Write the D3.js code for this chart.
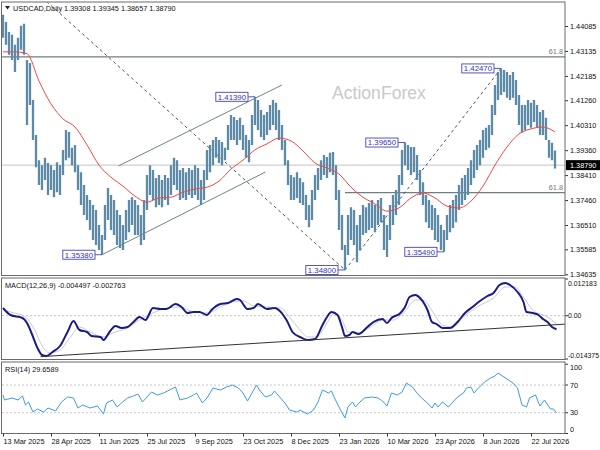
<!DOCTYPE html>
<html>
<head>
<meta charset="utf-8">
<script src="https://cdn.jsdelivr.net/npm/d3@7"></script>
<style>
  body { margin: 0; background: #fff; }
  svg { display: block; }
  text { font-family: "Liberation Sans", Arial, sans-serif; }
</style>
</head>
<body>
<svg id="chart" width="600" height="450"></svg>
<script>
// ---- data ----
var dateLabels = ["13 Mar 2025", "28 Apr 2025", "11 Jun 2025", "25 Jul 2025", "9 Sep 2025", "23 Oct 2025",
  "8 Dec 2025", "23 Jan 2026", "10 Mar 2026", "23 Apr 2026", "8 Jun 2026", "22 Jul 2026"];
var dateIdx = [0, 32, 64, 96, 128, 160, 192, 224, 256, 288, 320, 352];
var priceTicks = [1.44085, 1.43135, 1.42185, 1.41260, 1.40310, 1.39360, 1.38410, 1.37460, 1.36510, 1.35585, 1.34635];

// one entry per two daily bars
var barHigh = [1.4451, 1.4424, 1.4386, 1.4375, 1.4337, 1.4364, 1.4409, 1.4417, 1.4279, 1.4268,
  1.4127, 1.3994, 1.3898, 1.3879, 1.3907, 1.3887, 1.3879, 1.3860, 1.3890, 1.3879,
  1.3937, 1.4013, 1.4005, 1.3945, 1.3956, 1.3879, 1.3852, 1.3803, 1.3765, 1.3746,
  1.3727, 1.3708, 1.3651, 1.3613, 1.3727, 1.3792, 1.3765, 1.3746, 1.3708, 1.3689,
  1.3651, 1.3708, 1.3746, 1.3757, 1.3746, 1.3727, 1.3689, 1.3746, 1.3841, 1.3879,
  1.3860, 1.3830, 1.3841, 1.3822, 1.3841, 1.3830, 1.3879, 1.3907, 1.3898, 1.3860,
  1.3868, 1.3852, 1.3868, 1.3860, 1.3879, 1.3868, 1.3822, 1.3860, 1.3937, 1.3956,
  1.3975, 1.3986, 1.3975, 1.3967, 1.3945, 1.4032, 1.4070, 1.4062, 1.4051, 1.4059,
  1.4032, 1.3994, 1.3975, 1.4070, 1.4139, 1.4127, 1.4089, 1.4070, 1.4081, 1.4108,
  1.4127, 1.4116, 1.4089, 1.4032, 1.3975, 1.3898, 1.3841, 1.3833, 1.3852, 1.3830,
  1.3814, 1.3765, 1.3727, 1.3784, 1.3841, 1.3868, 1.3898, 1.3918, 1.3910, 1.3926,
  1.3929, 1.3879, 1.3784, 1.3689, 1.3575, 1.3689, 1.3719, 1.3708, 1.3651, 1.3689,
  1.3727, 1.3719, 1.3735, 1.3746, 1.3727, 1.3746, 1.3754, 1.3689, 1.3651, 1.3727,
  1.3765, 1.3784, 1.3841, 1.3937, 1.3965, 1.3956, 1.3948, 1.3948, 1.3918, 1.3860,
  1.3814, 1.3765, 1.3746, 1.3727, 1.3716, 1.3689, 1.3651, 1.3632, 1.3689, 1.3727,
  1.3746, 1.3765, 1.3803, 1.3830, 1.3841, 1.3868, 1.3898, 1.3937, 1.3956, 1.3975,
  1.4013, 1.4021, 1.4032, 1.4108, 1.4184, 1.4233, 1.4247, 1.4241, 1.4233, 1.4222,
  1.4233, 1.4203, 1.4146, 1.4108, 1.4108, 1.4127, 1.4116, 1.4127, 1.4108, 1.4081,
  1.4089, 1.4059, 1.3975, 1.3964, 1.3935];
var barLow = [1.4364, 1.4337, 1.4299, 1.4279, 1.4233, 1.4279, 1.4318, 1.4299, 1.4032, 1.4108,
  1.3975, 1.3871, 1.3803, 1.3784, 1.3822, 1.3765, 1.3784, 1.3757, 1.3776, 1.3765,
  1.3841, 1.3898, 1.3907, 1.3879, 1.3852, 1.3784, 1.3727, 1.3689, 1.3670, 1.3632,
  1.3594, 1.3575, 1.3556, 1.3538, 1.3594, 1.3670, 1.3632, 1.3613, 1.3575, 1.3564,
  1.3556, 1.3594, 1.3624, 1.3651, 1.3613, 1.3613, 1.3575, 1.3594, 1.3708, 1.3765,
  1.3746, 1.3719, 1.3727, 1.3719, 1.3746, 1.3727, 1.3765, 1.3803, 1.3784, 1.3746,
  1.3754, 1.3746, 1.3765, 1.3754, 1.3765, 1.3746, 1.3727, 1.3746, 1.3822, 1.3852,
  1.3879, 1.3907, 1.3887, 1.3879, 1.3898, 1.3937, 1.3975, 1.3975, 1.3956, 1.3975,
  1.3937, 1.3907, 1.3890, 1.3956, 1.4032, 1.4013, 1.3986, 1.3975, 1.3994, 1.4013,
  1.4032, 1.4013, 1.3975, 1.3937, 1.3879, 1.3803, 1.3746, 1.3746, 1.3754, 1.3735,
  1.3727, 1.3670, 1.3643, 1.3670, 1.3746, 1.3784, 1.3822, 1.3841, 1.3830, 1.3852,
  1.3841, 1.3746, 1.3632, 1.3556, 1.3480, 1.3537, 1.3594, 1.3575, 1.3509, 1.3556,
  1.3613, 1.3621, 1.3632, 1.3640, 1.3624, 1.3651, 1.3662, 1.3556, 1.3529, 1.3594,
  1.3651, 1.3689, 1.3727, 1.3803, 1.3879, 1.3860, 1.3841, 1.3852, 1.3822, 1.3765,
  1.3727, 1.3662, 1.3640, 1.3632, 1.3594, 1.3586, 1.3556, 1.3549, 1.3594, 1.3624,
  1.3640, 1.3662, 1.3708, 1.3727, 1.3746, 1.3765, 1.3803, 1.3830, 1.3860, 1.3879,
  1.3907, 1.3937, 1.3945, 1.3994, 1.4070, 1.4127, 1.4146, 1.4157, 1.4135, 1.4127,
  1.4135, 1.4108, 1.4032, 1.4002, 1.4013, 1.4032, 1.4021, 1.4043, 1.4021, 1.3994,
  1.3994, 1.3975, 1.3907, 1.3898, 1.3866];

// moving average, one value every 8 bars
var maValues = [1.4310, 1.4310, 1.4303, 1.4199, 1.4112, 1.4055, 1.4024, 1.3956, 1.3879, 1.3833,
  1.3799, 1.3761, 1.3738, 1.3754, 1.3757, 1.3776, 1.3788, 1.3795, 1.3818, 1.3864,
  1.3898, 1.3937, 1.3960, 1.3982, 1.3971, 1.3933, 1.3887, 1.3868, 1.3845, 1.3795,
  1.3757, 1.3731, 1.3704, 1.3716, 1.3754, 1.3773, 1.3754, 1.3723, 1.3716, 1.3742,
  1.3799, 1.3879, 1.3948, 1.3998, 1.4017, 1.4024, 1.4005];

// [bar, value]
var macdMain = [[0, 0.00256], [5, 0.00023], [13, -0.00076], [16, -0.00242], [19, -0.00574], [23, -0.01072],
  [26, -0.01305], [29, -0.01338], [33, -0.01205], [38, -0.01006], [43, -0.00541], [47, -0.00176],
  [51, -0.00475], [56, -0.00541], [59, -0.00674], [65, -0.00707], [67, -0.00807], [71, -0.00541],
  [75, -0.00342], [79, -0.00408], [83, -0.00375], [87, -0.00209], [91, -0.00043], [95, -0.00143],
  [100, 0.00256], [105, 0.00222], [109, 0.00222], [115, 0.00388], [119, 0.00289], [123, 0.00090],
  [127, 0.00123], [131, 0.00123], [136, 0.00023], [139, 0.00189], [145, 0.00388], [150, 0.00422],
  [156, 0.00554], [158, 0.00521], [163, 0.00222], [167, 0.00256], [170, 0.00388], [176, 0.00222],
  [181, 0.00256], [183, 0.00222], [189, -0.00143], [193, -0.00541], [198, -0.00707], [203, -0.00807],
  [208, -0.00774], [213, -0.00309], [216, -0.00043], [219, 0.00123], [223, 0.00023], [226, -0.00375],
  [228, -0.00674], [231, -0.00641], [233, -0.00541], [237, -0.00608], [243, -0.00375], [247, -0.00209],
  [253, -0.00110], [256, -0.00242], [259, -0.00076], [265, 0.00090], [268, 0.00289], [271, 0.00621],
  [275, 0.00687], [278, 0.00588], [283, 0.00189], [286, -0.00209], [289, -0.00276], [293, -0.00408],
  [298, -0.00408], [303, -0.00209], [308, 0.00090], [313, 0.00289], [318, 0.00488], [323, 0.00654],
  [327, 0.00754], [331, 0.01019], [335, 0.01086], [338, 0.01019], [343, 0.00787], [347, 0.00455],
  [349, 0.00123], [353, 0.00090], [357, 0.00023], [360, -0.00110], [363, -0.00209], [366, -0.00375],
  [369, -0.00450]];
var macdSignal = [[0, 0.00200], [5, 0.00123], [15, -0.00043], [20, -0.00375], [27, -0.01072], [31, -0.01238],
  [38, -0.01139], [45, -0.00707], [51, -0.00375], [58, -0.00541], [67, -0.00707], [73, -0.00574],
  [83, -0.00408], [91, -0.00143], [100, 0.00090], [109, 0.00256], [118, 0.00289], [127, 0.00123],
  [136, 0.00090], [145, 0.00289], [153, 0.00455], [160, 0.00488], [167, 0.00322], [176, 0.00289],
  [185, 0.00256], [191, -0.00043], [198, -0.00475], [203, -0.00707], [209, -0.00707], [216, -0.00242],
  [221, 0.00090], [226, -0.00143], [230, -0.00541], [237, -0.00574], [245, -0.00375], [253, -0.00143],
  [260, -0.00143], [267, 0.00090], [275, 0.00521], [280, 0.00521], [287, 0.00090], [293, -0.00309],
  [300, -0.00375], [307, -0.00043], [316, 0.00289], [327, 0.00588], [335, 0.00953], [341, 0.00953],
  [347, 0.00621], [353, 0.00189], [363, -0.00043], [369, -0.00276]];
var macdTrend = [[25, -0.0136], [374.7, -0.0028]];

var rsiValues = [[0, 55.6], [1, 48.4], [6, 51.3], [10, 48.4], [13, 54.2], [15, 41.2], [17, 45.5], [20, 31.0],
  [23, 35.4], [27, 31.0], [30, 36.8], [35, 32.5], [39, 45.5], [43, 52.7], [47, 51.3], [50, 36.8],
  [53, 41.2], [58, 36.8], [63, 39.7], [67, 28.2], [69, 44.0], [73, 48.4], [76, 38.3], [79, 44.0],
  [83, 51.3], [87, 54.2], [90, 57.0], [93, 45.5], [96, 52.7], [99, 59.9], [103, 55.6], [107, 58.5],
  [111, 62.8], [115, 67.1], [118, 48.4], [123, 51.3], [127, 55.6], [129, 58.5], [133, 44.0], [136, 51.3],
  [140, 65.7], [145, 62.8], [149, 67.1], [153, 70.0], [157, 65.7], [160, 58.5], [163, 46.9], [166, 58.5],
  [169, 70.0], [171, 62.8], [175, 52.7], [179, 55.6], [181, 61.4], [185, 51.3], [188, 44.0], [191, 33.9],
  [196, 31.0], [198, 33.9], [203, 28.2], [207, 33.9], [210, 45.5], [213, 62.8], [217, 58.5], [219, 61.4],
  [221, 51.3], [225, 33.9], [228, 22.4], [230, 38.3], [233, 45.5], [235, 38.3], [238, 45.5], [241, 51.3],
  [246, 52.7], [250, 51.3], [253, 46.9], [256, 39.7], [259, 58.5], [263, 55.6], [266, 59.9], [269, 72.9],
  [273, 67.1], [276, 58.5], [279, 51.3], [283, 44.0], [286, 36.8], [288, 44.0], [290, 38.3], [293, 45.5],
  [297, 38.3], [300, 45.5], [303, 52.7], [307, 58.5], [309, 65.7], [312, 67.1], [314, 58.5], [317, 65.7],
  [321, 74.4], [325, 80.1], [328, 83.0], [330, 87.4], [333, 83.0], [337, 77.3], [340, 72.9], [343, 65.7],
  [346, 41.2], [349, 38.3], [351, 51.3], [355, 55.6], [358, 39.7], [361, 48.4], [365, 35.4], [367, 35.4],
  [369, 29.66]];

// swing labels
var swingIdx = [66, 168, 228, 268, 294, 332];
var swingPrice = [1.35380, 1.41390, 1.34800, 1.39650, 1.35490, 1.42470];

// drawn objects
var dashLines = [[[29, 1.4502], [228, 1.3480]], [[228, 1.3480], [332, 1.4247]]];
var channelLines = [[[77, 1.3876], [186, 1.4184]], [[66, 1.3538], [175, 1.3853]]];
var fiboLevels = [{ from: 0, price: 1.4291 }, { from: 228, price: 1.3774 }];
var lastPrice = 1.38790;

// ---- layout ----
var svg = d3.select("#chart");
var plotL = 2, plotR = 565;
var panels = { main: [2, 275.5], macd: [278, 359.5], rsi: [362, 433.5] };

var x = d3.scaleLinear().domain([0, 374.67]).range([3, plotR]);
var yP = d3.scaleLinear().domain([1.34635, 1.44085]).range([274.3, 26]);
var yM = d3.scaleLinear().domain([-0.014375, 0.012183]).range([359, 279]);
var yR = d3.scaleLinear().domain([0, 100]).range([433.5, 364.25]);

var fs = 7.3;

// clip paths
var defs = svg.append("defs");
Object.keys(panels).forEach(function (k) {
  defs.append("clipPath").attr("id", "clip-" + k)
    .append("rect")
    .attr("x", plotL).attr("y", panels[k][0])
    .attr("width", plotR - plotL).attr("height", panels[k][1] - panels[k][0]);
});

// watermark
svg.append("text")
  .attr("x", 332).attr("y", 99)
  .attr("font-size", 17.6)
  .attr("fill", "#c9c9c9")
  .text("ActionForex");

// ---- main panel ----
var gMain = svg.append("g").attr("clip-path", "url(#clip-main)");

gMain.append("line")
  .attr("x1", plotL).attr("x2", plotR)
  .attr("y1", yP(lastPrice)).attr("y2", yP(lastPrice))
  .attr("stroke", "#c4c4c4").attr("stroke-width", 1);

fiboLevels.forEach(function (f) {
  gMain.append("line")
    .attr("x1", f.from === 0 ? plotL : x(f.from)).attr("x2", plotR)
    .attr("y1", yP(f.price)).attr("y2", yP(f.price))
    .attr("stroke", "#6f7f7f").attr("stroke-width", 1.3);
  svg.append("text")
    .attr("x", plotR - 2).attr("y", yP(f.price) - 2.5)
    .attr("text-anchor", "end")
    .attr("font-size", fs).attr("fill", "#777")
    .text("61.8");
});

channelLines.forEach(function (l) {
  gMain.append("line")
    .attr("x1", x(l[0][0])).attr("y1", yP(l[0][1]))
    .attr("x2", x(l[1][0])).attr("y2", yP(l[1][1]))
    .attr("stroke", "#6f8585").attr("stroke-width", 1);
});

dashLines.forEach(function (l) {
  gMain.append("line")
    .attr("x1", x(l[0][0])).attr("y1", yP(l[0][1]))
    .attr("x2", x(l[1][0])).attr("y2", yP(l[1][1]))
    .attr("stroke", "#555").attr("stroke-width", 1)
    .attr("stroke-dasharray", "3,3");
});

var bars = barHigh.map(function (h, k) { return { i: k * 2, h: h, l: barLow[k] }; });
gMain.append("g").selectAll("line")
  .data(bars)
  .join("line")
  .attr("x1", function (d) { return x(d.i); })
  .attr("x2", function (d) { return x(d.i); })
  .attr("y1", function (d) { return yP(d.h); })
  .attr("y2", function (d) { return yP(d.l); })
  .attr("stroke", "#5d8aa6")
  .attr("stroke-width", 2.3);

var maLine = d3.line()
  .x(function (d, k) { return x(k * 8); })
  .y(function (d) { return yP(d); })
  .curve(d3.curveMonotoneX);
gMain.append("path")
  .attr("d", maLine(maValues))
  .attr("fill", "none")
  .attr("stroke", "#f2484a")
  .attr("stroke-width", 1);

// swing labels
swingIdx.forEach(function (si, k) {
  var px = x(si), py = yP(swingPrice[k]);
  var g = svg.append("g");
  var t = g.append("text")
    .attr("font-size", fs + 0.5).attr("fill", "#3636b0")
    .attr("y", py + 2.8)
    .text(swingPrice[k].toFixed(5));
  var w = t.node().getComputedTextLength();
  var bx = px - 7 - w - 4;
  g.insert("rect", "text")
    .attr("x", bx).attr("y", py - 4.5)
    .attr("width", w + 4).attr("height", 9)
    .attr("fill", "#fff").attr("stroke", "#4444c4").attr("stroke-width", 0.9);
  t.attr("x", bx + 2);
  g.append("line")
    .attr("x1", bx + w + 4).attr("x2", px)
    .attr("y1", py).attr("y2", py)
    .attr("stroke", "#4444c4").attr("stroke-width", 0.9);
});

// header
svg.append("path")
  .attr("d", "M5,6 L10,6 L7.5,9.5 Z")
  .attr("fill", "#222");
svg.append("text")
  .attr("x", 13).attr("y", 11)
  .attr("font-size", fs).attr("fill", "#111")
  .text("USDCAD,Daily  1.39308 1.39345 1.38657 1.38790");

// price axis
var pAxis = svg.append("g")
  .attr("transform", "translate(" + plotR + ",0)")
  .call(d3.axisRight(yP).tickValues(priceTicks).tickFormat(d3.format(".5f")).tickSize(3).tickPadding(2));
pAxis.select(".domain").remove();
pAxis.selectAll("text").attr("font-size", fs).attr("font-family", "Liberation Sans, Arial, sans-serif").attr("fill", "#111");
pAxis.selectAll("line").attr("stroke", "#333");

svg.append("rect")
  .attr("x", plotR + 1).attr("y", yP(lastPrice) - 5)
  .attr("width", 600 - plotR - 1).attr("height", 10)
  .attr("fill", "#000");
svg.append("text")
  .attr("x", plotR + 5).attr("y", yP(lastPrice) + 2.7)
  .attr("font-size", fs).attr("fill", "#fff")
  .text(lastPrice.toFixed(5));

// ---- MACD panel ----
var gMacd = svg.append("g").attr("clip-path", "url(#clip-macd)");
gMacd.append("line")
  .attr("x1", plotL).attr("x2", plotR)
  .attr("y1", yM(0)).attr("y2", yM(0))
  .attr("stroke", "#c8c8c8").attr("stroke-dasharray", "2,2");

var mLine = d3.line()
  .x(function (d) { return x(d[0]); })
  .y(function (d) { return yM(d[1]); })
  .curve(d3.curveMonotoneX);
gMacd.append("path").attr("d", mLine(macdSignal))
  .attr("fill", "none").attr("stroke", "#c9c9c9").attr("stroke-width", 1);
gMacd.append("path").attr("d", mLine(macdMain))
  .attr("fill", "none").attr("stroke", "#1b1b86").attr("stroke-width", 2);
gMacd.append("line")
  .attr("x1", x(macdTrend[0][0])).attr("y1", yM(macdTrend[0][1]))
  .attr("x2", x(macdTrend[1][0])).attr("y2", yM(macdTrend[1][1]))
  .attr("stroke", "#333").attr("stroke-width", 1);

svg.append("text")
  .attr("x", 5).attr("y", 287.5)
  .attr("font-size", fs).attr("fill", "#111")
  .text("MACD(12,26,9) -0.004497 -0.002763");

// value, text, baseline shift
var macdLabels = [[0.012183, "0.012183", 6.5], [0, "0.00", 2.6], [-0.014375, "-0.014375", -1]];
macdLabels.forEach(function (m) {
  svg.append("line")
    .attr("x1", plotR).attr("x2", plotR + 3)
    .attr("y1", yM(m[0])).attr("y2", yM(m[0]))
    .attr("stroke", "#333");
  svg.append("text")
    .attr("x", plotR + 3).attr("y", yM(m[0]) + m[2])
    .attr("font-size", 6.9).attr("fill", "#111")
    .text(m[1]);
});

// ---- RSI panel ----
var gRsi = svg.append("g").attr("clip-path", "url(#clip-rsi)");
[70, 30].forEach(function (lv) {
  gRsi.append("line")
    .attr("x1", plotL).attr("x2", plotR)
    .attr("y1", yR(lv)).attr("y2", yR(lv))
    .attr("stroke", "#c8c8c8").attr("stroke-dasharray", "2,2");
});
var rLine = d3.line()
  .x(function (d) { return x(d[0]); })
  .y(function (d) { return yR(d[1]); });
gRsi.append("path").attr("d", rLine(rsiValues))
  .attr("fill", "none").attr("stroke", "#3e9ae8").attr("stroke-width", 1);

svg.append("text")
  .attr("x", 5).attr("y", 372)
  .attr("font-size", fs).attr("fill", "#111")
  .text("RSI(14) 29.6589");

var rsiLabels = [[100, "100", 6], [70, "70", 2.6], [30, "30", 2.6], [0, "0", -2]];
rsiLabels.forEach(function (m) {
  svg.append("line")
    .attr("x1", plotR).attr("x2", plotR + 3)
    .attr("y1", yR(m[0])).attr("y2", yR(m[0]))
    .attr("stroke", "#333");
  svg.append("text")
    .attr("x", plotR + 5).attr("y", yR(m[0]) + m[2])
    .attr("font-size", fs).attr("fill", "#111")
    .text(m[1]);
});

// ---- frames ----
Object.keys(panels).forEach(function (k) {
  svg.append("rect")
    .attr("x", plotL - 0.5).attr("y", panels[k][0])
    .attr("width", plotR - plotL + 0.5).attr("height", panels[k][1] - panels[k][0])
    .attr("fill", "none").attr("stroke", "#6a6a6a").attr("stroke-width", 1);
});

// date axis
var xAxis = svg.append("g")
  .attr("transform", "translate(0," + panels.rsi[1] + ")")
  .call(d3.axisBottom(x).tickValues(dateIdx)
    .tickFormat(function (d, k) { return dateLabels[k]; })
    .tickSize(3).tickPadding(2));
xAxis.select(".domain").remove();
xAxis.selectAll("text")
  .attr("text-anchor", "start").attr("x", 0)
  .attr("font-size", fs).attr("font-family", "Liberation Sans, Arial, sans-serif").attr("fill", "#111");
xAxis.selectAll("line").attr("stroke", "#333");
</script>
</body>
</html>
